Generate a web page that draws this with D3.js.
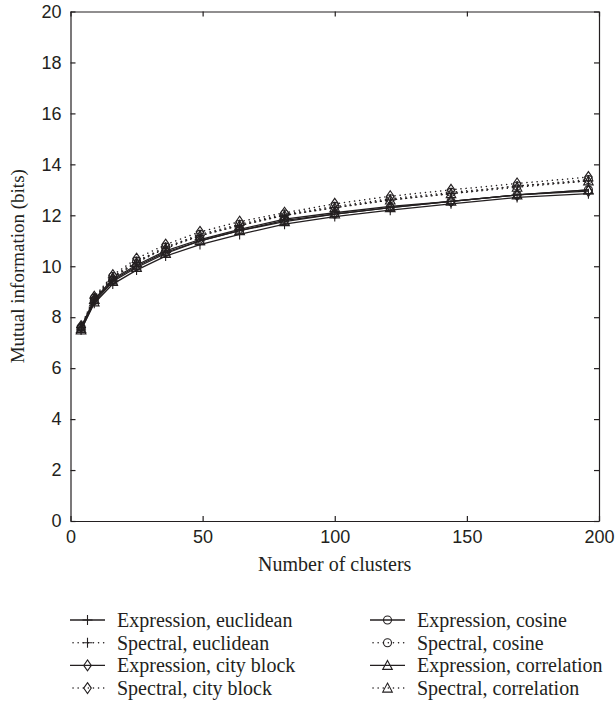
<!DOCTYPE html>
<html>
<head>
<meta charset="utf-8">
<script src="https://cdn.jsdelivr.net/npm/d3@7"></script>
<style>
  body { margin: 0; background: #fff; }
  svg { font-family: "Liberation Serif", "DejaVu Serif", serif; }
</style>
</head>
<body>
<svg id="chart" width="615" height="712"></svg>
<script>
const clusters = [4, 9, 16, 25, 36, 49, 64, 81, 100, 121, 144, 169, 196];

const exprEuclidean   = [7.50, 8.55, 9.30, 9.85, 10.40, 10.85, 11.25, 11.65, 11.95, 12.20, 12.45, 12.70, 12.85];
const specEuclidean   = [7.60, 8.75, 9.55, 10.15, 10.75, 11.20, 11.60, 12.00, 12.30, 12.60, 12.85, 13.15, 13.35];
const exprCityBlock   = [7.60, 8.70, 9.50, 10.05, 10.60, 11.05, 11.45, 11.85, 12.10, 12.35, 12.55, 12.80, 12.95];
const specCityBlock   = [7.65, 8.80, 9.65, 10.30, 10.85, 11.35, 11.75, 12.10, 12.45, 12.75, 13.00, 13.25, 13.50];
const exprCosine      = [7.55, 8.65, 9.45, 10.00, 10.55, 11.00, 11.40, 11.80, 12.05, 12.30, 12.55, 12.80, 13.00];
const specCosine      = [7.60, 8.75, 9.60, 10.20, 10.75, 11.25, 11.65, 12.05, 12.35, 12.65, 12.90, 13.15, 13.40];
const exprCorrelation = [7.50, 8.60, 9.40, 9.95, 10.50, 11.00, 11.40, 11.75, 12.05, 12.30, 12.55, 12.80, 13.00];
const specCorrelation = [7.55, 8.70, 9.55, 10.15, 10.70, 11.20, 11.60, 12.00, 12.30, 12.60, 12.85, 13.10, 13.35];

const seriesNames = [
  'Expression, euclidean', 'Spectral, euclidean',
  'Expression, city block', 'Spectral, city block',
  'Expression, cosine', 'Spectral, cosine',
  'Expression, correlation', 'Spectral, correlation'
];
const seriesValues = [
  exprEuclidean, specEuclidean, exprCityBlock, specCityBlock,
  exprCosine, specCosine, exprCorrelation, specCorrelation
];
const seriesMarkers = ['plus', 'plus', 'diamond', 'diamond', 'circle', 'circle', 'triangle', 'triangle'];
const seriesDotted = [false, true, false, true, false, true, false, true];

const xTicks = [0, 50, 100, 150, 200];
const yTicks = [0, 2, 4, 6, 8, 10, 12, 14, 16, 18, 20];

const svg = d3.select('#chart');
const margin = { left: 70.5, right: 16, top: 11.5, bottom: 191 };
const width = 615 - margin.left - margin.right;
const height = 712 - margin.top - margin.bottom;
const ink = '#231f20';

const x = d3.scaleLinear().domain([0, 200]).range([0, width]);
const y = d3.scaleLinear().domain([0, 20]).range([height, 0]);

const g = svg.append('g').attr('transform', `translate(${margin.left},${margin.top})`);

function drawMarker(sel, type) {
  sel.attr('fill', 'none').attr('stroke', ink).attr('stroke-width', 1.1);
  if (type === 'plus') {
    sel.append('path').attr('d', 'M-5,0H5M0,-5V5');
  } else if (type === 'diamond') {
    sel.append('path').attr('d', 'M0,-5.5L3.8,0L0,5.5L-3.8,0Z');
  } else if (type === 'circle') {
    sel.append('circle').attr('r', 4);
  } else if (type === 'triangle') {
    sel.append('path').attr('d', 'M0,-5L4.8,4L-4.8,4Z');
  }
}

function styleLine(sel, dotted) {
  sel.attr('stroke', ink)
    .attr('stroke-width', dotted ? 1.5 : 1.3)
    .attr('stroke-dasharray', dotted ? '0.1,5' : null)
    .attr('stroke-linecap', dotted ? 'round' : 'butt');
}

// series
const line = d3.line().x((d, i) => x(clusters[i])).y(d => y(d));

seriesValues.forEach((vals, s) => {
  g.append('path')
    .datum(vals)
    .attr('fill', 'none')
    .call(styleLine, seriesDotted[s])
    .attr('d', line);
});

seriesValues.forEach((vals, s) => {
  g.append('g').selectAll('g')
    .data(vals)
    .join('g')
    .attr('transform', (d, i) => `translate(${x(clusters[i])},${y(d)})`)
    .each(function () { drawMarker(d3.select(this), seriesMarkers[s]); });
});

// axes with inward ticks on all four sides
const axisStyle = sel => {
  sel.select('.domain').attr('stroke', ink).attr('stroke-width', 1.2);
  sel.selectAll('.tick line').attr('stroke', ink).attr('stroke-width', 1.2);
  sel.selectAll('text').attr('fill', ink).attr('font-size', 18);
};

g.append('g')
  .attr('transform', `translate(0,${height})`)
  .call(d3.axisBottom(x).tickValues(xTicks).tickSizeInner(-5).tickSizeOuter(0).tickPadding(9))
  .call(axisStyle);

g.append('g')
  .call(d3.axisLeft(y).tickValues(yTicks).tickSizeInner(-5).tickSizeOuter(0).tickPadding(9))
  .call(axisStyle);

g.append('g')
  .call(d3.axisTop(x).tickValues(xTicks).tickSizeInner(-5).tickSizeOuter(0).tickFormat(''))
  .call(axisStyle);

g.append('g')
  .attr('transform', `translate(${width},0)`)
  .call(d3.axisRight(y).tickValues(yTicks).tickSizeInner(-5).tickSizeOuter(0).tickFormat(''))
  .call(axisStyle);

// axis titles
g.append('text')
  .attr('x', width / 2)
  .attr('y', height + 50)
  .attr('text-anchor', 'middle')
  .attr('font-size', 20)
  .attr('fill', ink)
  .text('Number of clusters');

g.append('text')
  .attr('transform', `translate(${-47},${height / 2}) rotate(-90)`)
  .attr('text-anchor', 'middle')
  .attr('font-size', 19)
  .attr('fill', ink)
  .text('Mutual information (bits)');

// legend
const legend = svg.append('g');
const rowH = 22.7;
seriesNames.forEach((name, s) => {
  const col = s < 4 ? 0 : 1;
  const row = s % 4;
  const lx = col === 0 ? 70 : 370;
  const ly = 620 + row * rowH;
  const item = legend.append('g').attr('transform', `translate(${lx},${ly})`);
  item.append('line')
    .attr('x1', seriesDotted[s] ? 3 : 0).attr('x2', 35).attr('y1', 0).attr('y2', 0)
    .call(styleLine, seriesDotted[s]);
  drawMarker(item.append('g').attr('transform', 'translate(17.5,0)'), seriesMarkers[s]);
  item.append('text')
    .attr('x', 47).attr('y', 0).attr('dy', '0.35em')
    .attr('font-size', 20)
    .attr('fill', ink)
    .text(name);
});
</script>
</body>
</html>
